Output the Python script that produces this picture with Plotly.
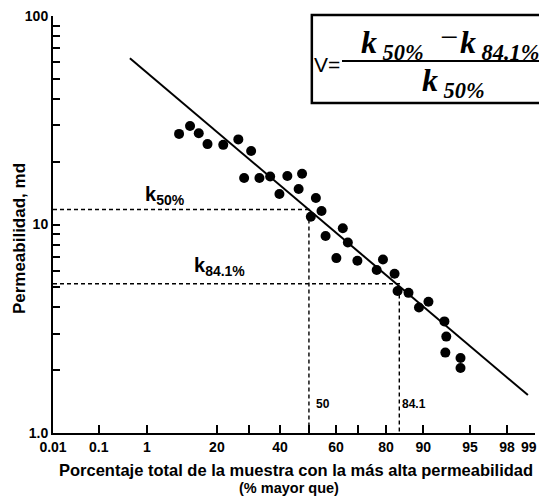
from statistics import NormalDist

import numpy as np
import plotly.graph_objects as go

# core samples: % of the sample with higher permeability, and permeability in md
pct_mayor = [5.0, 7.9, 11.0, 14.9, 21.8, 26.4, 28.3, 30.6, 33.2, 36.7, 39.8, 42.5, 46.4,
             47.6, 50.7, 52.6, 54.7, 56.2, 60.2, 63.2, 65.5, 69.7, 76.9, 79.0, 82.7, 83.6,
             86.6, 89.1, 90.7, 92.6, 92.7, 92.8, 94.2, 94.2]
perm_md = [27.2, 29.7, 27.4, 24.3, 24.1, 25.6, 16.7, 22.5, 16.7, 17.0, 14.0, 17.1, 14.8,
           17.5, 10.9, 13.4, 11.6, 8.8, 6.9, 9.6, 8.2, 6.7, 6.05, 6.8, 5.8, 4.8,
           4.7, 4.0, 4.26, 3.43, 2.43, 2.9, 2.29, 2.05]

# straight line drawn through the points
fit_pct = [0.47, 98.8]
fit_md = [62.7, 1.52]

# values read where the line crosses 50% and 84.1%
k50 = 11.8
k841 = 5.2

# x axis of the original probability paper
tick_pct = [0.01, 0.1, 1, 20, 30, 40, 50, 60, 70, 80, 90, 95, 98, 99]
tick_text = ["0.01", "0.1", "1", "20", "", "40", "", "60", "", "80", "90", "95", "98", ""]
tick_pos = [0, 9.5, 19.5, 34.0, 40.7, 47.1, 53.1, 58.7, 63.3, 69.1, 76.8, 86.5, 94.2, 100]

y_tickvals = [1, 2, 3, 4, 5, 6, 7, 8, 9, 10, 20, 30, 40, 50, 60, 70, 80, 90, 100]
y_ticktext = ["1.0"] + [""] * 8 + ["10"] + [""] * 8 + ["100"]

nd = NormalDist()
z_ticks = [nd.inv_cdf(p / 100) for p in tick_pct]


def to_axis(pcts):
    # probability scale: percent -> normal quantile -> position on the paper
    z = [nd.inv_cdf(p / 100) for p in pcts]
    return np.interp(z, z_ticks, tick_pos)


SANS = "Liberation Sans"
SERIF = "Liberation Serif"

fig = go.Figure()

# dashed guides for k50% and k84.1%
fig.add_trace(go.Scatter(x=to_axis([0.01, 50, 50]), y=[k50, k50, 1],
                         mode="lines", line=dict(color="black", width=1.4, dash="4px,3px"),
                         hoverinfo="skip"))
fig.add_trace(go.Scatter(x=to_axis([0.01, 84.1, 84.1]), y=[k841, k841, 1],
                         mode="lines", line=dict(color="black", width=1.4, dash="4px,3px"),
                         hoverinfo="skip"))

fig.add_trace(go.Scatter(x=to_axis(fit_pct), y=fit_md, mode="lines",
                         line=dict(color="black", width=2)))

fig.add_trace(go.Scatter(x=to_axis(pct_mayor), y=perm_md, mode="markers",
                         marker=dict(color="black", size=10, line=dict(width=0))))

# the page body keeps its 8px margin: figure is 16px smaller so the page never scrolls
fig.update_layout(
    width=531, height=488,
    margin=dict(l=45, r=4, t=8, b=63, autoexpand=False),
    plot_bgcolor="white", paper_bgcolor="white",
    showlegend=False,
    font=dict(family=SANS, color="black"),
)

fig.update_xaxes(range=[0, 100], showgrid=False, zeroline=False, automargin=False,
                 showline=True, linecolor="black", linewidth=2,
                 ticks="inside", ticklen=8, tickwidth=1.5, tickcolor="black",
                 tickmode="array", tickvals=tick_pos, ticktext=tick_text,
                 ticklabeloverflow="allow",
                 tickfont=dict(family=SANS, size=14, weight="bold"))
fig.update_yaxes(type="log", range=[0, 2], showgrid=False, zeroline=False, automargin=False,
                 showline=True, linecolor="black", linewidth=2,
                 ticks="inside", ticklen=7, tickwidth=1.5, tickcolor="black",
                 tickmode="array", tickvals=y_tickvals, ticktext=y_ticktext,
                 ticklabeloverflow="allow",
                 tickfont=dict(family=SANS, size=14, weight="bold"))


def note(text, x, y, size, xanchor="center", family=SANS, **kw):
    return dict(text=text, x=x, y=y, xref=kw.pop("xref", "paper"), yref="paper",
                xanchor=xanchor, yanchor="middle", showarrow=False,
                font=dict(family=family, size=size), **kw)


ann = [
    note("<b>Permeabilidad, md</b>", -0.0705, 0.465, 17, textangle=-90),
    note("<b>Porcentaje total de la muestra con la más alta permeabilidad</b>", 0.505, -0.0887, 16.5),
    note("<b>(% mayor que)</b>", 0.4896, -0.1319, 14.5),
    # last x label, kept inside the page edge
    note("<b>99</b>", 1.0, -0.034, 14, xanchor="right", xshift=4),
    note("<b>k</b><sub><b>50%</b></sub>", 0.186, 0.57, 20, xanchor="left"),
    note("<b>k</b><sub><b>84.1%</b></sub>", 0.288, 0.40, 20, xanchor="left"),
    note("<b>50</b>", to_axis([50])[0], 0.0695, 12, xanchor="left", xref="x", xshift=5),
    note("<b>84.1</b>", to_axis([84.1])[0], 0.0695, 12, xanchor="left", xref="x", xshift=1),
    # formula V = (k50% - k84.1%) / k50%
    note("V=", 0.537, 0.8825, 21, xanchor="left"),
    note("<b><i>k</i></b><sub><i><b> 50%</b></i></sub>", 0.6349, 0.932, 32, xanchor="left", family=SERIF),
    note("−", 0.8216, 0.9496, 32, family=SERIF),
    note("<b><i>k</i></b><sub><i><b> 84.1%</b></i></sub>", 0.84, 0.932, 32, xanchor="left", family=SERIF),
    note("<b><i>k</i></b><sub><i><b> 50%</b></i></sub>", 0.7614, 0.8417, 32, xanchor="left", family=SERIF),
]
fig.update_layout(annotations=ann)

fig.add_shape(type="rect", xref="paper", yref="paper", x0=0.537, x1=1.06, y0=0.7914,
              y1=1.0024, line=dict(color="black", width=2.5))
fig.add_shape(type="line", xref="paper", yref="paper", x0=0.5996, x1=1.0124, y0=0.892,
              y1=0.892, line=dict(color="black", width=2))

fig.write_html("out.html")
